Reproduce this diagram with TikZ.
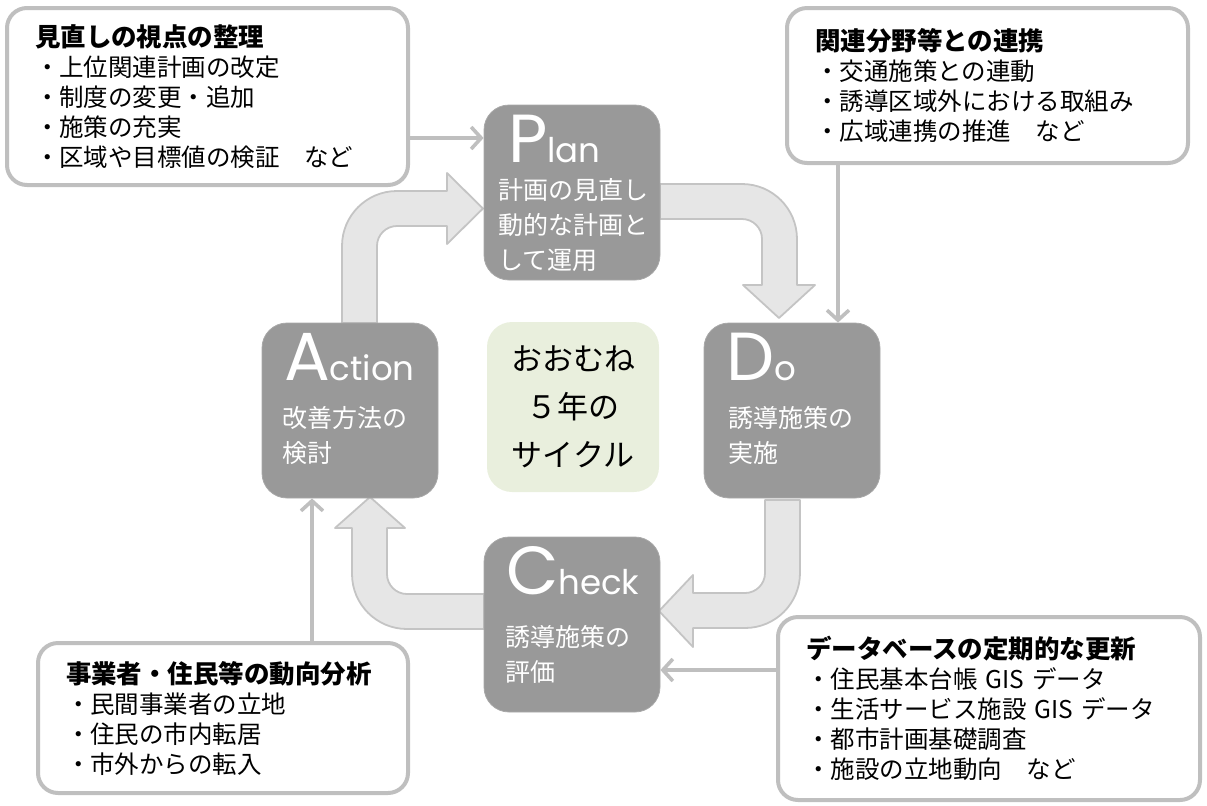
\documentclass[tikz,border=0pt]{standalone}
\usepackage{fontspec}
\setmainfont{Noto Sans CJK JP}
\newfontfamily\geofont{Poppins}
\usepackage{xcolor}
\usetikzlibrary{arrows.meta,positioning}
\definecolor{phasegray}{HTML}{999999}
\definecolor{phaseedge}{HTML}{A8A8A8}
\definecolor{cyclegreen}{HTML}{E9EFDD}
\definecolor{bandfill}{HTML}{E6E6E6}
\definecolor{bandedge}{HTML}{C4C4C4}
\definecolor{noteedge}{HTML}{BFBFBF}
\newcommand{\Initial}[1]{{\fontsize{34pt}{34pt}\selectfont #1}}

\begin{document}
\begin{tikzpicture}[x=0.5pt, y=-0.5pt,
  phase/.style={draw=phaseedge, fill=phasegray, rounded corners=12.5pt,
                minimum width=88pt, minimum height=87.5pt, inner sep=0pt},
  initial/.style={anchor=north west, inner sep=0pt, text depth=0pt, text=white,
                  font=\geofont\fontsize{17pt}{17pt}\selectfont},
  phasebody/.style={anchor=north west, inner sep=0pt, text=white, align=left,
                    font=\fontsize{12.5pt}{17.5pt}\selectfont},
  note/.style={draw=noteedge, line width=2pt, fill=white, rounded corners=10pt,
               align=left, inner xsep=14pt, font=\fontsize{12.25pt}{15pt}\selectfont},
  band/.style={draw=bandedge, fill=bandfill, line width=0.9pt, line join=round},
  link/.style={draw=noteedge, line width=1.8pt, -{Straight Barb[length=5pt,width=11pt]}}
]
\useasboundingbox (0,0) rectangle (1207,805);

% cycle arrows
\path[band] (660,184) -- (742,184) arc[start angle=90, end angle=0, radius=27.5pt]
  -- (797,285) -- (815,285) -- (779,318) -- (743,285) -- (762,285) -- (762,239)
  arc[start angle=0, end angle=90, radius=10pt] -- (660,219) -- cycle;
\path[band] (765,500) -- (800,500) -- (800,573) arc[start angle=0, end angle=-90, radius=27.5pt]
  -- (693,628) -- (693,647) -- (659,611) -- (693,575) -- (693,593) -- (745,593)
  arc[start angle=-90, end angle=0, radius=10pt] -- cycle;
\path[band] (484,594) -- (407,594) arc[start angle=-90, end angle=-180, radius=10pt]
  -- (387,528) -- (405,528) -- (370,497) -- (335,528) -- (352,528) -- (352,574)
  arc[start angle=180, end angle=270, radius=27.5pt] -- (484,629) -- cycle;
\path[band] (342,323) -- (342,246) arc[start angle=180, end angle=90, radius=27.5pt]
  -- (447,191) -- (447,173) -- (483,208.5) -- (447,244) -- (447,226) -- (397,226)
  arc[start angle=90, end angle=180, radius=10pt] -- (377,323) -- cycle;

% PDCA boxes
\node[phase] (plan) at (572,192.5) {};
\node[phase] (do) at (792,410.5) {};
\node[phase] (check) at (572,624.5) {};
\node[phase] (action) at (350,410.5) {};
\node[fill=cyclegreen, rounded corners=12.5pt, minimum width=86pt, minimum height=85pt,
      align=center, font=\fontsize{15.5pt}{24pt}\selectfont] (cycle) at (573,407)
      {おおむね\\５年の\\サイクル};

\node[initial] (planhead) at ([shift={(24,10)}]plan.north west) {\Initial{P}lan};
\node[phasebody] (plantext) at ([shift={(14,73)}]plan.north west)
  {計画の見直し\\動的な計画と\\して運用};
\node[initial] (dohead) at ([shift={(22,10)}]do.north west) {\Initial{D}o};
\node[phasebody] (dotext) at ([shift={(24,83)}]do.north west) {誘導施策の\\実施};
\node[initial] (checkhead) at ([shift={(22,9)}]check.north west) {\Initial{C}heck};
\node[phasebody] (checktext) at ([shift={(21,88)}]check.north west) {誘導施策の\\評価};
\node[initial] (actionhead) at ([shift={(22,10)}]action.north west) {\Initial{A}ction};
\node[phasebody] (actiontext) at ([shift={(20,83)}]action.north west) {改善方法の\\検討};

% side notes
\node[note, text width=172.5pt, minimum height=88.5pt] (review) at (207.5,96.5)
  {{\bfseries\fontsize{12.75pt}{15pt}\selectfont 見直しの視点の整理}\\
   ・上位関連計画の改定\\・制度の変更・追加\\・施策の充実\\・区域や目標値の検証　など};
\node[note, text width=172.5pt, minimum height=77.5pt] (linkage) at (987.5,85.5)
  {{\bfseries\fontsize{12.75pt}{15pt}\selectfont 関連分野等との連携}\\
   ・交通施策との連動\\・誘導区域外における取組み\\・広域連携の推進　など};
\node[note, text width=183pt, minimum height=91.5pt] (database) at (989,708.5)
  {{\bfseries\fontsize{12.75pt}{15pt}\selectfont データベースの定期的な更新}\\
   ・住民基本台帳 GIS データ\\・生活サービス施設 GIS データ\\・都市計画基礎調査\\・施設の立地動向　など};
\node[note, text width=157pt, minimum height=75pt] (trend) at (223,718)
  {{\bfseries\fontsize{12.75pt}{15pt}\selectfont 事業者・住民等の動向分析}\\
   ・民間事業者の立地\\・住民の市内転居\\・市外からの転入};

\draw[link] (review.east |- 0,138) -- (plan.west |- 0,138);
\draw[link] (linkage.south -| 838,0) -- (do.north -| 838,0);
\draw[link] (database.west |- 0,670) -- (check.east |- 0,670);
\draw[link] (trend.north -| 312,0) -- (action.south -| 312,0);
\end{tikzpicture}
\end{document}
